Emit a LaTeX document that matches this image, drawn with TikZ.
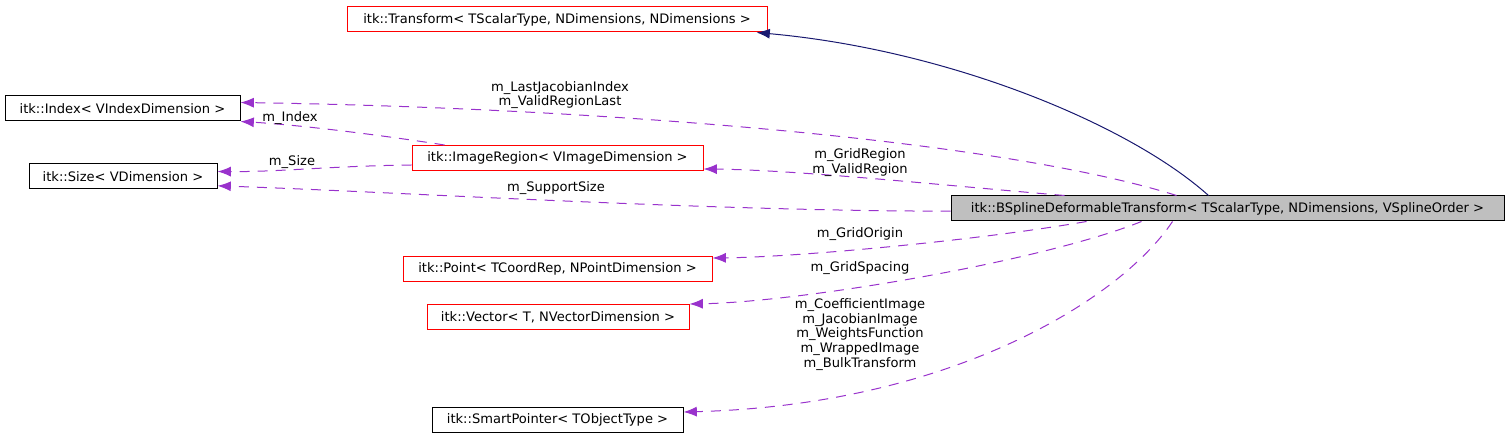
\documentclass[tikz,border=0pt]{standalone}
\usepackage{fontspec}
\setmainfont{DejaVu Sans}
\usetikzlibrary{arrows.meta}

\definecolor{memberclr}{RGB}{153,50,204}
\definecolor{inheritclr}{RGB}{25,25,112}
\definecolor{redborder}{RGB}{255,0,0}
\definecolor{mainfill}{RGB}{191,191,191}

\tikzset{every picture/.style={line width=0.75pt}}
\tikzset{
  classbox/.style={draw=black, line width=0.75pt, inner sep=0pt, font=\fontsize{9.8pt}{11pt}\selectfont, minimum height=18.75pt},
  redbox/.style={classbox, draw=redborder},
  member/.style={draw=memberclr, dash pattern=on 7.5pt off 6pt, -{Latex[length=10pt,width=7.5pt]}},
  inherit/.style={draw=inheritclr, -{Latex[length=10pt,width=7.5pt]}},
  lbl/.style={font=\fontsize{9.8pt}{11pt}\selectfont, align=center, inner sep=0pt}
}

\begin{document}
\begin{tikzpicture}[x=0.75pt,y=0.75pt,yscale=-1,xscale=1]
\useasboundingbox (0,0) rectangle (1509,448);

%Shape: Class boxes
\node (transform) [redbox, minimum width=315pt] at (557,19.5) {itk::Transform< TScalarType, NDimensions, NDimensions >};
\node (index) [classbox, minimum width=176.25pt] at (122.5,108.5) {itk::Index< VIndexDimension >};
\node (size) [classbox, minimum width=141pt] at (123,176.5) {itk::Size< VDimension >};
\node (region) [redbox, minimum width=218.25pt] at (557.5,158) {itk::ImageRegion< VImageDimension >};
\node (bspline) [classbox, fill=mainfill, minimum width=414.75pt] at (1227.5,208.5) {itk::BSplineDeformableTransform< TScalarType, NDimensions, VSplineOrder >};
\node (point) [redbox, minimum width=231.75pt] at (557.5,269) {itk::Point< TCoordRep, NPointDimension >};
\node (vector) [redbox, minimum width=196.5pt] at (558,317) {itk::Vector< T, NVectorDimension >};
\node (smartptr) [classbox, minimum width=188.25pt] at (557.5,420) {itk::SmartPointer< TObjectType >};

%Connectors
\draw [inherit] ([xshift=193.5pt]bspline.north west) .. controls (1130,125) and (950,50) .. ([xshift=307.5pt]transform.south west);
\draw [member] ([xshift=169.5pt]bspline.north west) .. controls (1000,140) and (600,108) .. ([yshift=-4.5pt]index.east);
\draw [member] ([xshift=24.75pt]region.north west) .. controls (380,135) and (300,125) .. (index.south east);
\draw [member] ([yshift=5.25pt]region.west) .. controls (330,166) and (280,172) .. ([yshift=-3.75pt]size.east);
\draw [member] ([xshift=85.5pt]bspline.north west) .. controls (950,186) and (800,170) .. ([yshift=8.25pt]region.east);
\draw [member] ([yshift=2pt]bspline.west) .. controls (700,211) and (400,192) .. ([yshift=7pt]size.east);
\draw [member] ([xshift=102pt]bspline.south west) .. controls (980,240) and (800,257) .. ([yshift=-8.25pt]point.east);
\draw [member] ([xshift=143.25pt]bspline.south west) .. controls (1040,262) and (800,302) .. ([yshift=-9.75pt]vector.east);
\draw [member] ([xshift=166.5pt]bspline.south west) .. controls (1120,300) and (950,405) .. ([yshift=-6pt]smartptr.east);

% Text Node
\node (lblLast) [lbl] at (560,95) {m\_LastJacobianIndex\\m\_ValidRegionLast};
% Text Node
\node (lblIndex) [lbl] at (290,118) {m\_Index};
% Text Node
\node (lblSize) [lbl] at (292,162) {m\_Size};
% Text Node
\node (lblGrid) [lbl] at (860,162.5) {m\_GridRegion\\m\_ValidRegion};
% Text Node
\node (lblSupport) [lbl] at (556,188) {m\_SupportSize};
% Text Node
\node (lblOrigin) [lbl] at (860,234) {m\_GridOrigin};
% Text Node
\node (lblSpacing) [lbl] at (860,268) {m\_GridSpacing};
% Text Node
\node (lblCoeff) [lbl] at (860,334.5) {m\_CoefficientImage\\m\_JacobianImage\\m\_WeightsFunction\\m\_WrappedImage\\m\_BulkTransform};

\end{tikzpicture}
\end{document}
